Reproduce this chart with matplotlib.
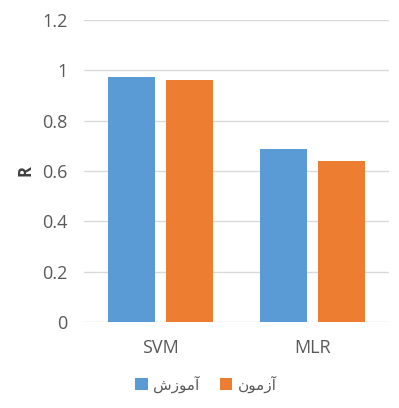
import matplotlib
matplotlib.use("Agg")
import matplotlib.pyplot as plt
import numpy as np

categories = ["SVM", "MLR"]
# Persian labels written in presentation forms, visual order (train / test)
series_names = ["\uFEB5\uFEAF\uFEEE\uFEE3\uFE81", "\uFEE5\uFEEE\uFEE3\uFEAF\uFE81"]
train_r = [0.975, 0.686]
test_r = [0.961, 0.641]
y_ticks = [0, 0.2, 0.4, 0.6, 0.8, 1.0, 1.2]
y_tick_labels = ["0", "0.2", "0.4", "0.6", "0.8", "1", "1.2"]

plt.rcParams["font.family"] = ["Open Sans", "DejaVu Sans"]

fig = plt.figure(figsize=(3.99, 4.08), dpi=100)
ax = fig.add_axes([0.2105, 0.2108, 0.7645, 0.7402])

x = np.arange(len(categories))
w = 0.308
off = 0.19
b1 = ax.bar(x - off, train_r, width=w, color="#5B9BD5", label=series_names[0], zorder=3)
b2 = ax.bar(x + off, test_r, width=w, color="#ED7D31", label=series_names[1], zorder=3)

ax.set_xlim(-0.5, 1.5)
ax.set_ylim(0, 1.2)
ax.set_yticks(y_ticks)
ax.set_yticklabels(y_tick_labels)
ax.set_xticks(x)
ax.set_xticklabels(categories)
ax.tick_params(axis="both", length=0, labelsize=13, colors="#595959")
ax.tick_params(axis="y", pad=12)
ax.tick_params(axis="x", pad=12)
ax.grid(axis="y", color="#D9D9D9", linewidth=1, zorder=0)
ax.set_axisbelow(True)
for s in ax.spines.values():
    s.set_visible(False)

fig.text(0.065, 1 - 171 / 408, "R", rotation=90, ha="center", va="center",
         fontsize=12, fontweight="bold", color="#404040")

leg = fig.legend(handles=[b1, b2], labels=series_names, loc="center",
                 bbox_to_anchor=(0.516, 1 - 385 / 408), ncol=2, frameon=False,
                 fontsize=11, handlelength=0.85, handleheight=0.85,
                 handletextpad=0.35, columnspacing=1.3, labelcolor="#595959")

fig.savefig("out.png", dpi=100, facecolor="white")
